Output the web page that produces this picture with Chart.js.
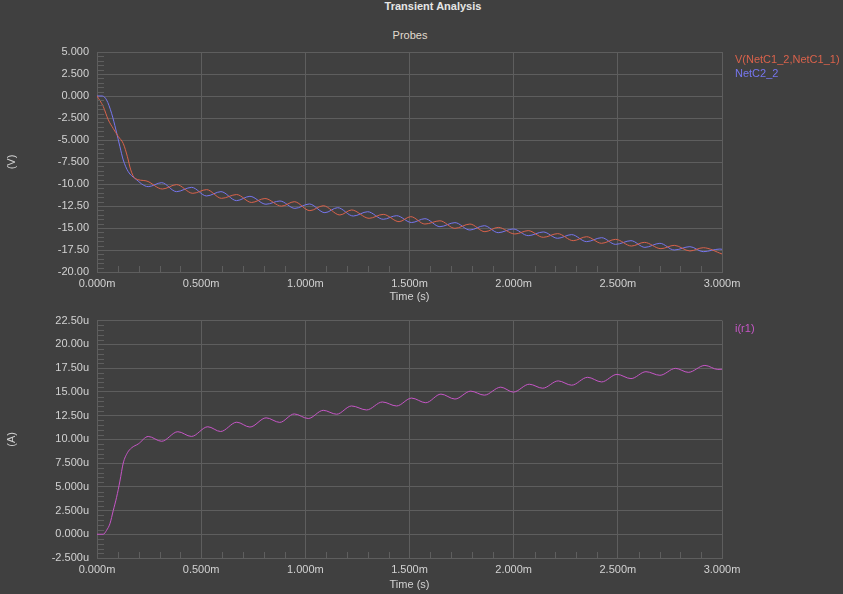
<!DOCTYPE html>
<html>
<head>
<meta charset="utf-8">
<script src="https://cdn.jsdelivr.net/npm/chart.js@4.4.1/dist/chart.umd.min.js"></script>
<style>
  html, body { margin: 0; padding: 0; background: #404040; }
  #wrap { position: relative; width: 843px; height: 594px; overflow: hidden; }
  canvas { position: absolute; left: 0; }
  #vChart { top: 0; }
  #iChart { top: 306px; }
  .ttl { position: absolute; transform: translateX(-50%); white-space: nowrap;
         font-family: "Liberation Sans", Arial, sans-serif; font-size: 11px; line-height: 13px; }
  #mainTitle { left: 433px; top: 0; font-weight: bold; color: #e6e6e6; }
  #subTitle { left: 410px; top: 29px; color: #e0dccf; }
</style>
</head>
<body>
<div id="wrap">
  <div id="mainTitle" class="ttl">Transient Analysis</div>
  <div id="subTitle" class="ttl">Probes</div>
  <canvas id="vChart" width="843" height="306"></canvas>
  <canvas id="iChart" width="843" height="288"></canvas>
</div>
<script>
// V(NetC1_2,NetC1_1) - time in ms, volts
const netC1Time = [0, 0.03, 0.054, 0.078, 0.102, 0.126, 0.146, 0.162, 0.182, 0.235,
  0.314, 0.382, 0.46, 0.526, 0.598, 0.67, 0.742, 0.806, 0.886, 0.947,
  1.022, 1.086, 1.166, 1.222, 1.306, 1.374, 1.45, 1.506, 1.574, 1.646,
  1.718, 1.79, 1.862, 1.926, 2.006, 2.07, 2.142, 2.211, 2.286, 2.35,
  2.422, 2.489, 2.566, 2.627, 2.707, 2.771, 2.846, 2.91, 3.0];
const netC1Volts = [0, -1.2, -2.7, -3.7, -4.6, -5.4, -6.9, -8.4, -9.36, -9.64,
  -10.57, -10.07, -11.06, -10.64, -11.63, -11.2, -12.1, -11.65, -12.52, -12.01,
  -13.03, -12.47, -13.52, -12.95, -13.9, -13.45, -14.28, -13.71, -14.55, -14.18,
  -15.04, -14.55, -15.42, -14.93, -15.68, -15.3, -16.06, -15.64, -16.44, -15.99,
  -16.74, -16.29, -17.05, -16.63, -17.35, -16.97, -17.61, -17.24, -17.95];

// NetC2_2
const netC2Time = [0, 0.025, 0.046, 0.07, 0.091, 0.11, 0.126, 0.15, 0.182, 0.246,
  0.31, 0.382, 0.454, 0.526, 0.595, 0.67, 0.734, 0.811, 0.878, 0.95,
  1.019, 1.094, 1.155, 1.23, 1.299, 1.374, 1.438, 1.51, 1.574, 1.646,
  1.718, 1.79, 1.859, 1.926, 1.998, 2.07, 2.142, 2.211, 2.278, 2.35,
  2.422, 2.489, 2.563, 2.63, 2.702, 2.771, 2.846, 2.91, 2.99, 3.0];
const netC2Volts = [0, 0, -0.45, -1.97, -3.86, -5.76, -7.27, -8.6, -9.36, -10.3,
  -9.85, -10.87, -10.38, -11.36, -10.87, -11.89, -11.4, -12.3, -11.93, -12.77,
  -12.27, -13.26, -12.69, -13.64, -13.15, -14.01, -13.6, -14.38, -13.94, -14.85,
  -14.39, -15.23, -14.74, -15.53, -15.11, -15.87, -15.45, -16.17, -15.75, -16.55,
  -16.1, -16.86, -16.44, -17.2, -16.74, -17.5, -17.12, -17.69, -17.39, -17.42];

// i(r1) - microamps
const r1Time = [0, 0.03, 0.046, 0.062, 0.078, 0.094, 0.11, 0.126, 0.146, 0.166, 0.198, 0.246,
  0.31, 0.388, 0.453, 0.532, 0.593, 0.671, 0.734, 0.812, 0.877, 0.947,
  1.014, 1.086, 1.15, 1.222, 1.294, 1.37, 1.438, 1.51, 1.578, 1.651,
  1.718, 1.794, 1.859, 1.938, 1.998, 2.075, 2.139, 2.214, 2.278, 2.355,
  2.422, 2.496, 2.563, 2.635, 2.702, 2.777, 2.838, 2.918, 2.98, 3.0];
const r1Current = [0, 0, 0.42, 1.11, 2.5, 3.89, 5.6, 7.5, 8.58, 9.1, 9.51, 10.3,
  9.79, 10.8, 10.3, 11.32, 10.82, 11.8, 11.29, 12.26, 11.78, 12.67,
  12.19, 13.05, 12.64, 13.51, 13.09, 13.93, 13.51, 14.34, 13.85, 14.76,
  14.24, 15.07, 14.65, 15.49, 14.97, 15.8, 15.38, 16.15, 15.7, 16.53,
  16.04, 16.84, 16.39, 17.12, 16.74, 17.47, 17.05, 17.78, 17.36, 17.38];

const BG = '#404040';
const GRID = '#5e5e5e';
const TEXT = '#d2d2d2';
const FONT = '"Liberation Sans", Arial, sans-serif';

function isMajor(v, step) {
  return Math.abs(v / step - Math.round(v / step)) < 1e-6;
}

function fmtNum(v) {
  const r = Math.round(v * 1000) / 1000;
  const s = Math.abs(r) >= 10 ? r.toFixed(2) : r.toFixed(3);
  return s === '-0.000' ? '0.000' : s;
}

function points(xs, ys) {
  return xs.map((x, i) => ({ x, y: ys[i] }));
}

// minor ticks inside the plot + coloured legend text on the right
const extras = {
  id: 'extras',
  afterDraw(chart) {
    const { ctx, chartArea: a, scales } = chart;
    ctx.save();
    ctx.strokeStyle = GRID;
    ctx.lineWidth = 1;
    ctx.beginPath();
    scales.x.ticks.forEach(t => {
      if (isMajor(t.value, 0.5)) return;
      const px = Math.round(scales.x.getPixelForValue(t.value)) + 0.5;
      ctx.moveTo(px, a.bottom);
      ctx.lineTo(px, a.bottom - 6);
    });
    scales.y.ticks.forEach(t => {
      if (isMajor(t.value, 2.5)) return;
      const py = Math.round(scales.y.getPixelForValue(t.value)) + 0.5;
      ctx.moveTo(a.left, py);
      ctx.lineTo(a.left + 7, py);
    });
    ctx.stroke();

    ctx.font = '11px ' + FONT;
    ctx.textBaseline = 'middle';
    ctx.textAlign = 'left';
    chart.data.datasets.forEach((ds, i) => {
      ctx.fillStyle = ds.borderColor;
      ctx.fillText(ds.label, a.right + 13, a.top + 8 + i * 14);
    });
    ctx.restore();
  }
};

function makeOptions(yMin, yMax, unit, yTitle, padTop, xHeight) {
  return {
    responsive: false,
    animation: false,
    layout: { padding: { top: padTop, right: 121, left: 0, bottom: 0 } },
    plugins: { legend: { display: false }, tooltip: { enabled: false } },
    scales: {
      x: {
        type: 'linear', min: 0, max: 3,
        afterFit: s => { s.height = xHeight; },
        grid: { color: c => isMajor(c.tick.value, 0.5) ? GRID : 'rgba(0,0,0,0)', drawTicks: false },
        border: { color: GRID },
        ticks: {
          stepSize: 0.1, autoSkip: false, maxRotation: 0, padding: 5,
          color: TEXT, font: { family: FONT, size: 11 },
          callback: v => isMajor(v, 0.5) ? (Math.round(v * 1000) / 1000).toFixed(3) + 'm' : ''
        },
        title: { display: true, text: 'Time (s)', color: TEXT, font: { family: FONT, size: 11 }, padding: { top: 0, bottom: 2 } }
      },
      y: {
        type: 'linear', min: yMin, max: yMax,
        afterFit: s => { s.width = 97; },
        grid: { color: c => isMajor(c.tick.value, 2.5) ? GRID : 'rgba(0,0,0,0)', drawTicks: false },
        border: { color: GRID },
        ticks: {
          stepSize: 0.5, autoSkip: false, padding: 8,
          color: TEXT, font: { family: FONT, size: 11 },
          callback: v => isMajor(v, 2.5) ? fmtNum(v) + unit : ''
        },
        title: { display: true, text: yTitle, color: TEXT, font: { family: FONT, size: 11 }, padding: { top: 5, bottom: 0 } }
      }
    }
  };
}

function lineSet(label, color, data) {
  return {
    label, data,
    borderColor: color,
    borderWidth: 1,
    pointRadius: 0,
    fill: false,
    cubicInterpolationMode: 'monotone'
  };
}

new Chart(document.getElementById('vChart'), {
  type: 'line',
  data: {
    datasets: [
      lineSet('V(NetC1_2,NetC1_1)', '#d9624b', points(netC1Time, netC1Volts)),
      lineSet('NetC2_2', '#7676ee', points(netC2Time, netC2Volts))
    ]
  },
  options: makeOptions(-20, 5, '', '(V)', 52, 34),
  plugins: [extras]
});

new Chart(document.getElementById('iChart'), {
  type: 'line',
  data: {
    datasets: [
      lineSet('i(r1)', '#c656c6', points(r1Time, r1Current))
    ]
  },
  options: makeOptions(-2.5, 22.5, 'u', '(A)', 12, 36),
  plugins: [extras]
});
</script>
</body>
</html>
